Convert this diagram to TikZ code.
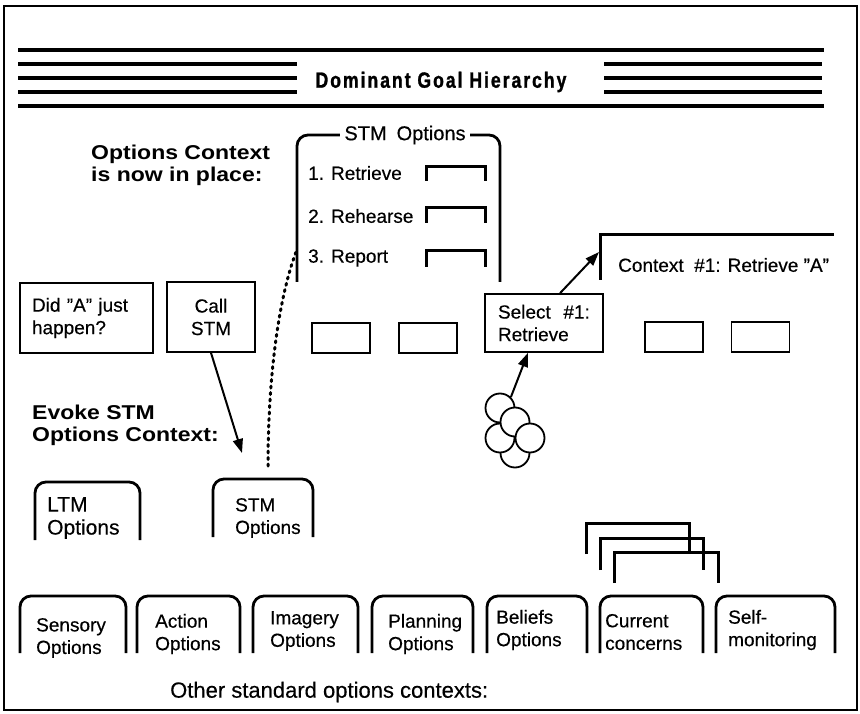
\documentclass[tikz,border=0pt]{standalone}
\usepackage{fontspec}
\setmainfont{Liberation Sans}[FakeBold=0.4]
\newfontfamily\widebold{Liberation Sans}[FakeStretch=1.15]
\newfontfamily\titlefont{Liberation Sans}[FakeStretch=0.8,LetterSpace=9,FakeBold=1.2]
\newcommand\dq{\char34\relax}
\usetikzlibrary{arrows.meta,calc}
\begin{document}
\begin{tikzpicture}[x=1pt,y=-1pt,
  txt/.style={inner sep=0pt, align=left, font=\fontsize{19}{22.5}\selectfont},
  bigtxt/.style={inner sep=0pt, align=left, font=\fontsize{21}{23}\selectfont},
  boldtxt/.style={inner sep=0pt, align=left, font=\widebold\bfseries\fontsize{20}{22}\selectfont},
  box/.style={draw, line width=1.6pt, inner sep=0pt},
  tabln/.style={line width=2.8pt, rounded corners=11pt},
  heavy/.style={line width=3.5pt},
  bracket/.style={line width=3pt},
  arr/.style={line width=2pt, -{Triangle[length=14pt,width=10pt]}},
  circ/.style={circle, draw, fill=white, line width=1.8pt, minimum size=29pt, inner sep=0pt},
  dots/.style={line width=3pt, line cap=round, dash pattern=on 2pt off 4.5pt},
]
\useasboundingbox (0,0) rectangle (860,714);
\draw[line width=1.3pt] (4,6) rectangle (857,710);

% Dominant goal hierarchy band
\draw[heavy] (18,50) -- (824,50);
\draw[heavy] (18,106) -- (824,106);
\foreach \yy in {64,78,92} {
  \draw[heavy] (18,\yy) -- (297,\yy);
  \draw[heavy] (604,\yy) -- (822,\yy);
}
\node[inner sep=0pt, font=\titlefont\bfseries\fontsize{22}{24}\selectfont] (title) at (441,82) {Dominant Goal Hierarchy};

% Options context label
\node[boldtxt, anchor=west] (optctx) at (91,165) {Options Context\\is now in place:};

% STM options context (big tab)
\draw[tabln] (297,282) |- (400,135) -| (500,282);
\node[fill=white, inner xsep=4pt, inner ysep=2pt, font=\fontsize{20}{22}\selectfont] (stmhdr) at (405,135) {STM\hspace{10pt}Options};
\node[txt, anchor=west] (r1) at (308,173) {1. Retrieve};
\node[txt, anchor=west] (r2) at (308,216) {2. Rehearse};
\node[txt, anchor=west] (r3) at (308,258) {3. Report};
\draw[bracket] (426,181) |- (485,167) -- (485,181);
\draw[bracket] (426,223) |- (485,208) -- (485,223);
\draw[bracket] (426,267) |- (485,251) -- (485,267);

% row of boxes
\node[box, txt, minimum width=133pt, minimum height=70pt, text width=109pt] (did) at (86.5,318) {Did \dq A\dq{} just\\happen?};
\node[box, txt, align=center, minimum width=88pt, minimum height=70pt] (call) at (211,317) {Call\\STM};
\node[box, minimum width=58pt, minimum height=30pt] (sb1) at (341,338) {};
\node[box, minimum width=58pt, minimum height=30pt] (sb2) at (428,338) {};
\node[box, txt, minimum width=118pt, minimum height=58pt, text width=92pt] (sel) at (544,323) {Select\ \ \#1:\\Retrieve};
\node[box, minimum width=58pt, minimum height=30pt] (sb3) at (674,337) {};
\node[box, minimum width=58pt, minimum height=30pt] (sb4) at (760.5,337) {};

% Context #1
\draw[bracket] (600,280) |- (834,235);
\node[txt, anchor=west] (ctx) at (618,265) {Context\ \ \#1: Retrieve \dq A\dq};
\coordinate (ctxtip) at (599,252);
\draw[arr] ($(sel.north)+(16,0)$) -- (ctxtip);

% cluster of circles
\node[circ] (c5) at (515,453) {};
\node[circ] (c3) at (500,438) {};
\node[circ] (c1) at (500,408) {};
\node[circ] (c2) at (515,422) {};
\node[circ] (c4) at (530,438) {};
\draw[arr] (c1.north east) -- ($(sel.south)+(-16,0)$);

% evoke
\node[boldtxt, anchor=west] (evoke) at (32,425) {Evoke STM\\Options Context:};
\coordinate (evk) at (242,453);
\draw[arr] (call.south) -- (evk);

% dotted link
\coordinate (dotA) at (268,466);
\coordinate (dotB) at (296,252);
\draw[dots] (dotA) .. controls (268,380) and (278,300) .. (dotB);

% LTM / STM tabs
\draw[tabln] (35,540) |- (88,482) -| (140,540);
\node[bigtxt, anchor=west] (ltm) at (47,518) {LTM\\Options};
\draw[tabln] (213,537) |- (263,479) -| (313,537);
\node[txt, anchor=west] (stmtab) at (235,518) {STM\\Options};

% current concerns stack
\draw[bracket] (586,554) |- (689,523) -- (689,552);
\draw[bracket] (600,570) |- (703,538) -- (703,570);
\draw[bracket] (614,583) |- (718,552) -- (718,583);

% bottom tabs
\draw[tabln] (20,653) |- (70,596) -| (126,653);
\node[txt, anchor=west] (sens) at (36,638) {Sensory\\Options};
\draw[tabln] (137,653) |- (190,596) -| (240,653);
\node[txt, anchor=west] (act) at (155,634) {Action\\Options};
\draw[tabln] (253,653) |- (300,596) -| (358,653);
\node[txt, anchor=west] (img) at (270,631) {Imagery\\Options};
\draw[tabln] (372,653) |- (420,596) -| (473,653);
\node[txt, anchor=west] (plan) at (388,634) {Planning\\Options};
\draw[tabln] (487,653) |- (540,596) -| (587,653);
\node[txt, anchor=west] (bel) at (496,630) {Beliefs\\Options};
\draw[tabln] (600,653) |- (650,596) -| (703,653);
\node[txt, anchor=west] (cur) at (605,632) {Current\\concerns};
\draw[tabln] (716,653) |- (770,596) -| (835,653);
\node[txt, anchor=west] (self) at (728,630) {Self-\\monitoring};

\node[inner sep=0pt, anchor=west, font=\fontsize{22}{24}\selectfont] (other) at (170,692) {Other standard options contexts:};
\end{tikzpicture}
\end{document}
